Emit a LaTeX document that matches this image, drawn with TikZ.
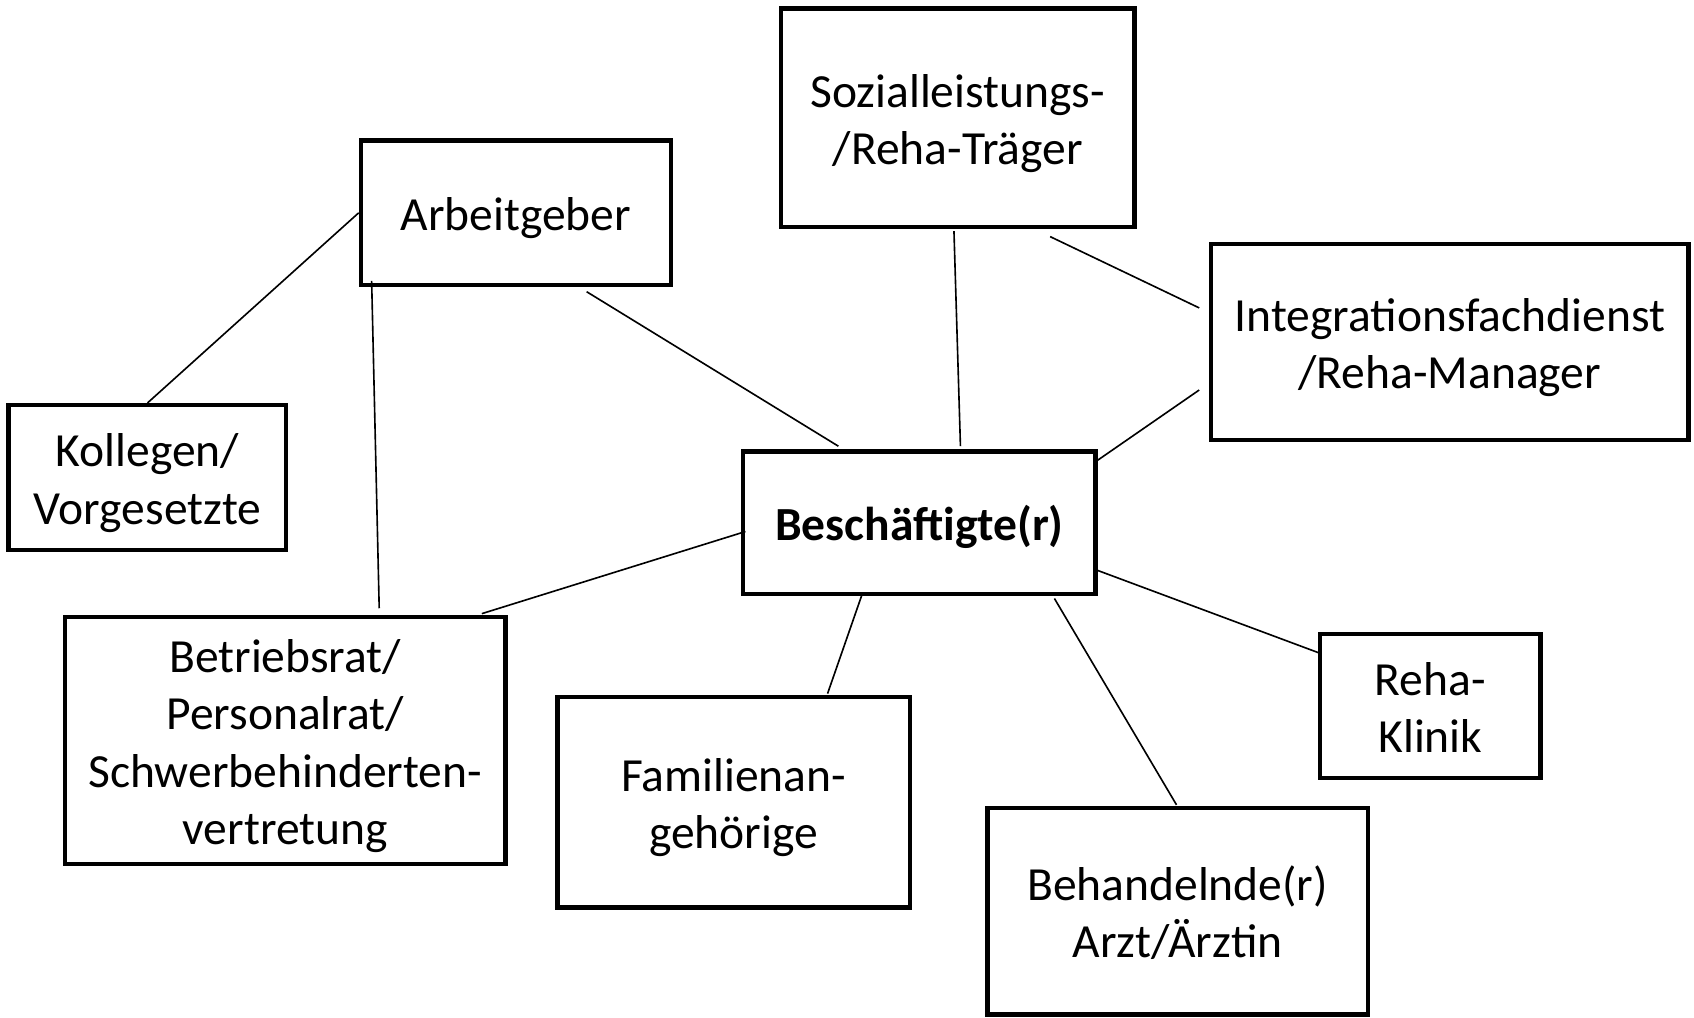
\documentclass[tikz,border=0pt]{standalone}
\usepackage{fontspec}
\setmainfont{Carlito}
\newcommand{\boxtext}[1]{\raisebox{0pt}[\dimexpr\height+6pt\relax][\depth]{\begin{tabular}{@{}c@{}}#1\end{tabular}}}
\begin{document}
\begin{tikzpicture}[x=0.5pt,y=-0.5pt,
  box/.style={draw=black,line width=2pt,inner sep=0pt,align=center,
    font=\fontsize{22pt}{26.5pt}\selectfont},
  link/.style={draw=black,line width=0.75pt}]
\path[use as bounding box,fill=white] (0,0) rectangle (1568,942);
% nodes (centre, size in pt = pixel/2)
\node[box,minimum width=163.5pt,minimum height=101pt] (soz) at (886.5,109) {\boxtext{Sozialleistungs-\\/Reha-Träger}};
\node[box,minimum width=143.5pt,minimum height=67pt] (arb) at (477.5,197) {\boxtext{Arbeitgeber}};
\node[box,minimum width=221pt,minimum height=90.5pt] (int) at (1342,316.5) {\boxtext{Integrationsfachdienst\\/Reha-Manager}};
\node[box,minimum width=128.5pt,minimum height=67pt] (kol) at (136.5,442) {\boxtext{Kollegen/\\Vorgesetzte}};
\node[box,minimum width=163pt,minimum height=66pt] (bes) at (851,484) {\boxtext{\bfseries Beschäftigte(r)}};
\node[box,minimum width=204pt,minimum height=114.5pt] (bet) at (264,685.5) {\boxtext{Betriebsrat/\\Personalrat/\\Schwerbehinderten-\\vertretung}};
\node[box,minimum width=163pt,minimum height=97.5pt] (fam) at (679,742.5) {\boxtext{Familienan-\\gehörige}};
\node[box,minimum width=102pt,minimum height=66.5pt] (reh) at (1324,653.5) {\boxtext{Reha-\\Klinik}};
\node[box,minimum width=176pt,minimum height=95.5pt] (beh) at (1090,843.5) {\boxtext{Behandelnde(r)\\Arzt/Ärztin}};
% connectors
\draw[link] (arb.west) -- (kol.north);
\draw[link] ([shift={(12,-6)}]arb.south west) -- ([shift={(87,-6)}]bet.north);
\draw[link] ([shift={(65.5,4)}]arb.south) -- ([shift={(-75,-3)}]bes.north);
\draw[link] ([shift={(-3.5,2)}]soz.south) -- ([shift={(38,-3)}]bes.north);
\draw[link] ([shift={(85.5,7)}]soz.south) -- ([shift={(-9,-31.5)}]int.west);
\draw[link] ([shift={(-9,44.5)}]int.west) -- ([shift={(0,10)}]bes.north east);
\draw[link] ([shift={(4,8)}]bes.west) -- ([shift={(-24,-1)}]bet.north east);
\draw[link] ([shift={(-53,-2)}]bes.south) -- ([shift={(87,-1)}]fam.north);
\draw[link] ([shift={(125,2)}]bes.south) -- ([shift={(-1,-1)}]beh.north);
\draw[link] ([shift={(0,44)}]bes.east) -- ([shift={(0,-49.5)}]reh.west);
\end{tikzpicture}
\end{document}
